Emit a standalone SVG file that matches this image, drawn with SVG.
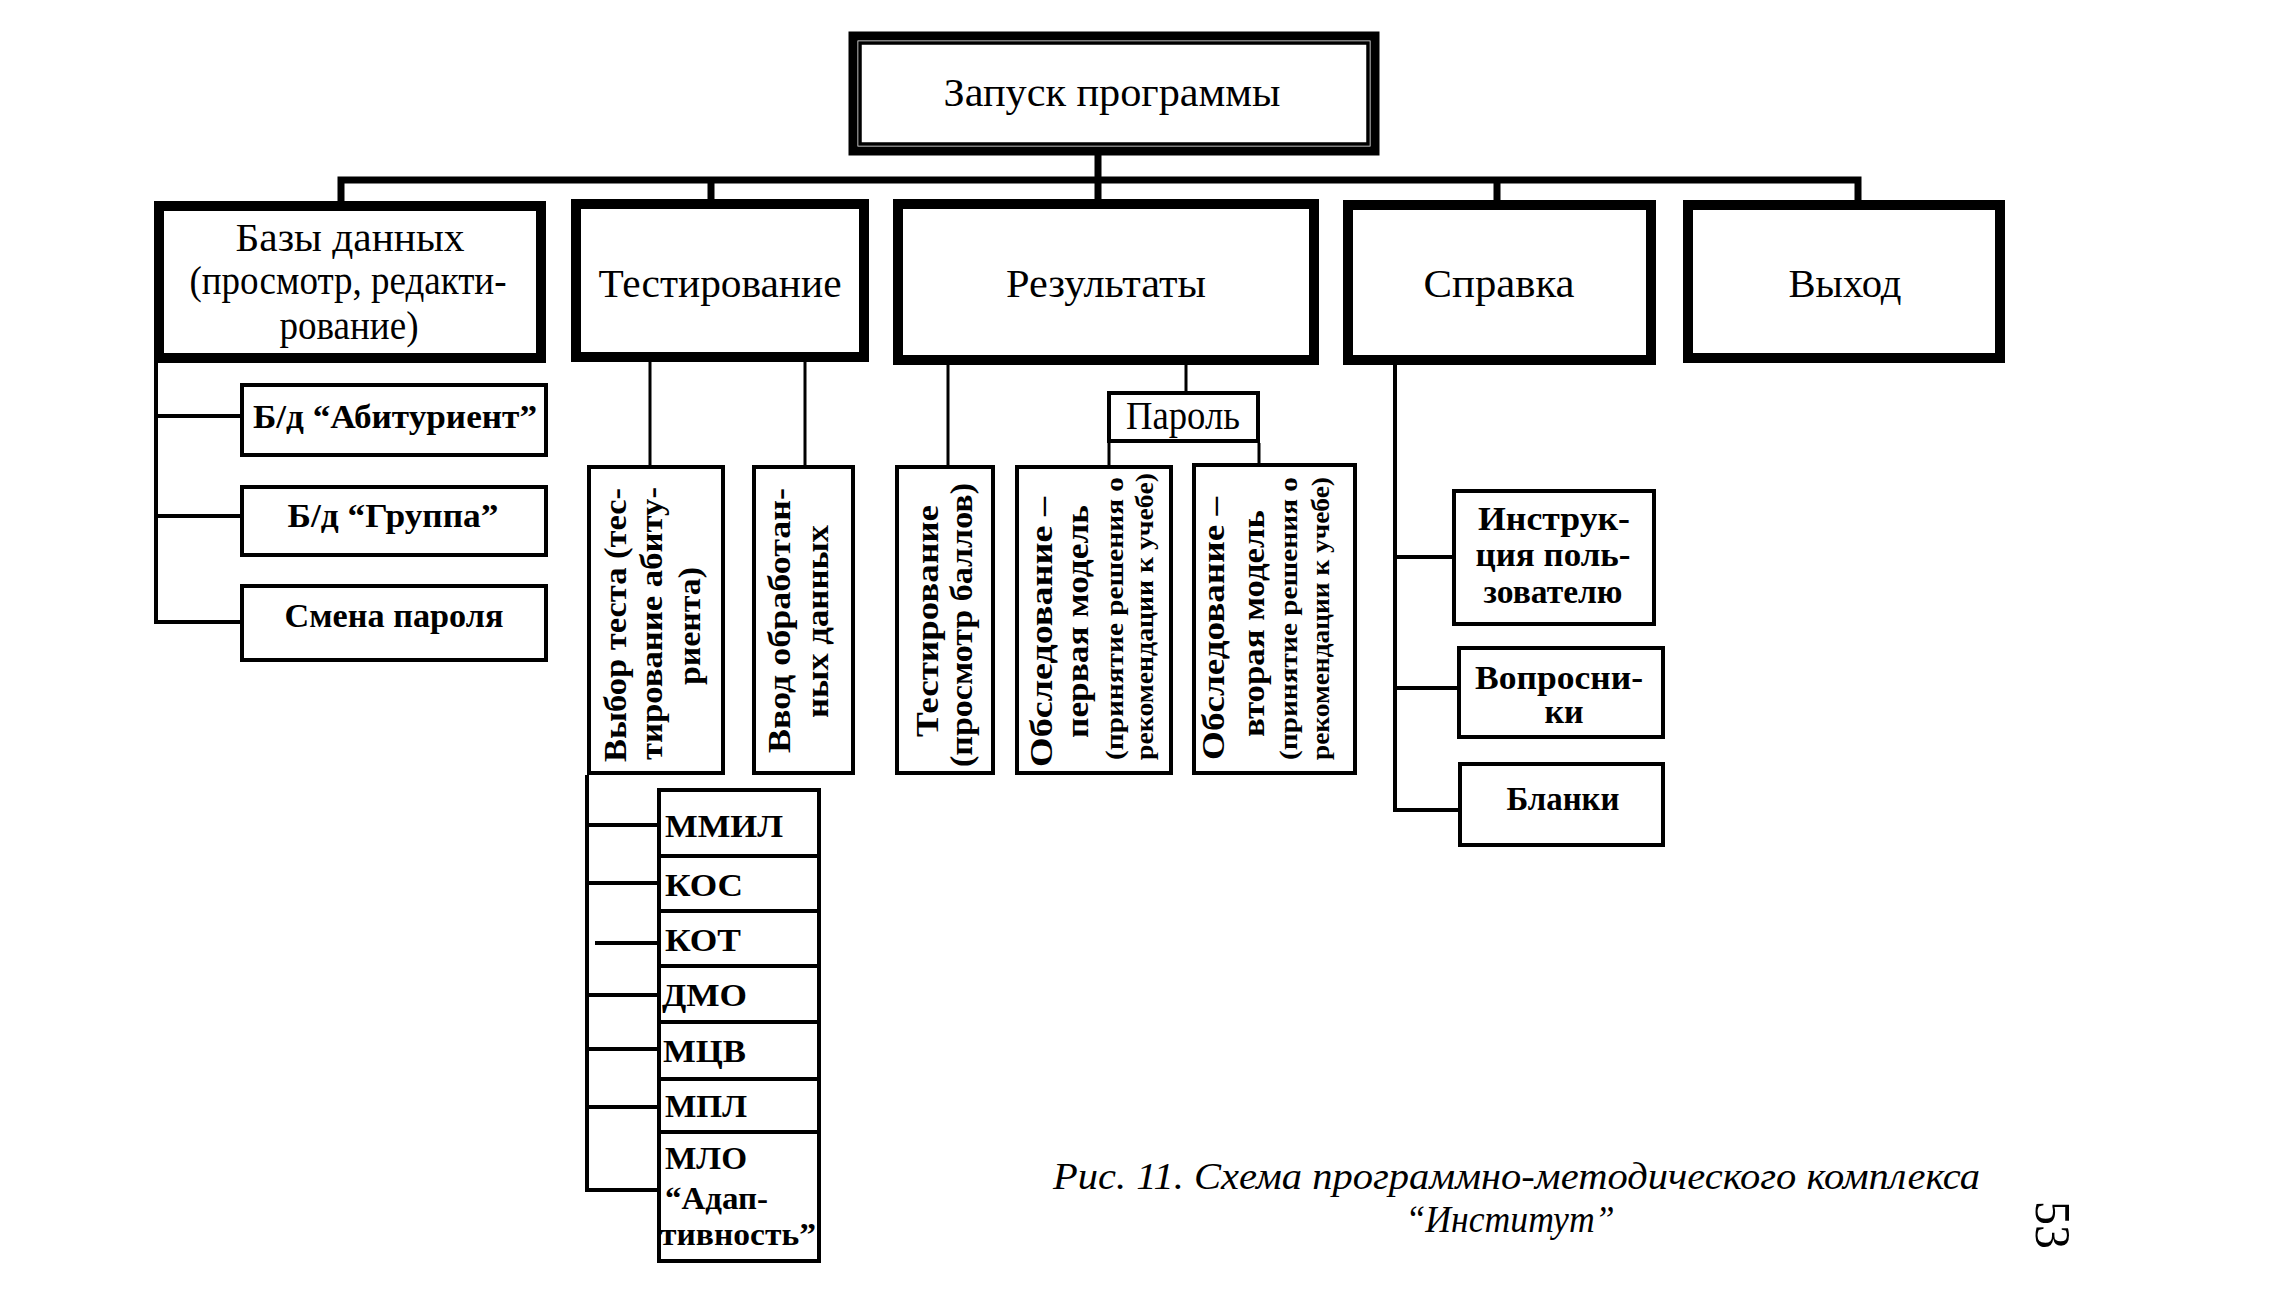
<svg xmlns="http://www.w3.org/2000/svg" width="2285" height="1304" viewBox="0 0 2285 1304">
<style>
.b1{fill:#fff;stroke:#000;stroke-width:10}
.b2{fill:#fff;stroke:#000;stroke-width:4}
.l1{fill:none;stroke:#000;stroke-width:7}
.l2{fill:none;stroke:#000;stroke-width:4}
.l3{fill:none;stroke:#000;stroke-width:3}
text{font-family:"Liberation Serif","Times New Roman",serif;fill:#000}
.r{font-size:40px;text-anchor:middle}
.bd{font-weight:bold;font-size:34px;text-anchor:middle}
.st{font-weight:bold;font-size:32px}
.v{font-weight:bold;font-size:32px}
.vs{font-weight:bold;font-size:25px}
.cap{font-style:italic;font-size:38px}
</style>
<rect x="0" y="0" width="2285" height="1304" fill="#fff"/>
<g id="connectors">
<path class="l1" d="M1098 153 V204 M341 205 V180 H1858 V205 M711 180 V204 M1497 180 V205"/>
<path class="l2" d="M156 363 V622 H240 M156 416 H240 M156 516 H240"/>
<path class="l3" d="M650 362 V465 M805 362 V465"/>
<path class="l2" d="M587 775 V1192 M587 825 H657 M587 883 H657 M595 943 H657 M587 995 H657 M587 1049 H657 M587 1107 H657 M587 1190 H657"/>
<path class="l3" d="M948 365 V465 M1186 365 V393 M1109 443 V465 M1259 443 V465"/>
<path class="l2" d="M1395 365 V810 H1458 M1395 557 H1452 M1395 688 H1457"/>
</g>
<g id="n-start">
<rect x="853" y="36" width="522" height="115" fill="#fff" stroke="#000" stroke-width="9"/>
<rect x="860" y="43" width="508" height="101" fill="none" stroke="#000" stroke-width="3.5"/>
<text class="r" x="1112" y="106" font-size="44" textLength="337" lengthAdjust="spacingAndGlyphs">Запуск программы</text>
</g>
<g id="n-db">
<rect class="b1" x="159" y="206" width="382" height="152"/>
<text class="r" x="350" y="251" font-size="36" textLength="229" lengthAdjust="spacingAndGlyphs">Базы данных</text>
<text class="r" x="348" y="294" font-size="32" textLength="317" lengthAdjust="spacingAndGlyphs">(просмотр, редакти-</text>
<text class="r" x="349" y="339" font-size="32" textLength="139" lengthAdjust="spacingAndGlyphs">рование)</text>
</g>
<g id="n-test">
<rect class="b1" x="576" y="204" width="288" height="153"/>
<text class="r" x="720" y="297" font-size="41" textLength="243" lengthAdjust="spacingAndGlyphs">Тестирование</text>
</g>
<g id="n-results">
<rect class="b1" x="898" y="204" width="416" height="156"/>
<text class="r" x="1106" y="297" font-size="41" textLength="200" lengthAdjust="spacingAndGlyphs">Результаты</text>
</g>
<g id="n-help">
<rect class="b1" x="1348" y="205" width="303" height="155"/>
<text class="r" x="1499" y="297" font-size="41" textLength="151" lengthAdjust="spacingAndGlyphs">Справка</text>
</g>
<g id="n-exit">
<rect class="b1" x="1688" y="205" width="312" height="153"/>
<text class="r" x="1845" y="297" font-size="41" textLength="113" lengthAdjust="spacingAndGlyphs">Выход</text>
</g>
<g id="n-db-abit">
<rect class="b2" x="242" y="385" width="304" height="70"/>
<text class="bd" x="395" y="428" textLength="284" lengthAdjust="spacingAndGlyphs">Б/д “Абитуриент”</text>
</g>
<g id="n-db-group">
<rect class="b2" x="242" y="487" width="304" height="68"/>
<text class="bd" x="393" y="527" textLength="211" lengthAdjust="spacingAndGlyphs">Б/д “Группа”</text>
</g>
<g id="n-db-pass">
<rect class="b2" x="242" y="586" width="304" height="74"/>
<text class="bd" x="394" y="627" textLength="219" lengthAdjust="spacingAndGlyphs">Смена пароля</text>
</g>
<g id="n-choose">
<rect class="b2" x="589" y="467" width="134" height="306"/>
<text class="v" transform="translate(626 762) rotate(-90)" textLength="274" lengthAdjust="spacingAndGlyphs">Выбор теста (тес-</text>
<text class="v" transform="translate(662 760) rotate(-90)" textLength="273" lengthAdjust="spacingAndGlyphs">тирование абиту-</text>
<text class="v" transform="translate(700 685) rotate(-90)" textLength="118" lengthAdjust="spacingAndGlyphs">риента)</text>
</g>
<g id="n-input">
<rect class="b2" x="754" y="467" width="99" height="306"/>
<text class="v" transform="translate(790 753) rotate(-90)" textLength="265" lengthAdjust="spacingAndGlyphs">Ввод обработан-</text>
<text class="v" transform="translate(828 718) rotate(-90)" textLength="193" lengthAdjust="spacingAndGlyphs">ных данных</text>
</g>
<g id="n-res-test">
<rect class="b2" x="897" y="467" width="96" height="306"/>
<text class="v" transform="translate(938 737) rotate(-90)" textLength="232" lengthAdjust="spacingAndGlyphs">Тестирование</text>
<text class="v" transform="translate(972 767) rotate(-90)" textLength="284" lengthAdjust="spacingAndGlyphs">(просмотр баллов)</text>
</g>
<g id="n-password">
<rect class="b2" x="1109" y="393" width="149" height="48"/>
<text class="r" x="1183" y="429" font-size="36" textLength="114" lengthAdjust="spacingAndGlyphs">Пароль</text>
</g>
<g id="n-exam1">
<rect class="b2" x="1017" y="467" width="154" height="306"/>
<text class="v" transform="translate(1052 767) rotate(-90)" textLength="270" lengthAdjust="spacingAndGlyphs">Обследование –</text>
<text class="v" transform="translate(1088 738) rotate(-90)" textLength="233" lengthAdjust="spacingAndGlyphs">первая модель</text>
<text class="vs" transform="translate(1123 760) rotate(-90)" textLength="283" lengthAdjust="spacingAndGlyphs">(принятие решения о</text>
<text class="vs" transform="translate(1153 760) rotate(-90)" textLength="287" lengthAdjust="spacingAndGlyphs">рекомендации к учебе)</text>
</g>
<g id="n-exam2">
<rect class="b2" x="1194" y="465" width="161" height="308"/>
<text class="v" transform="translate(1224 760) rotate(-90)" textLength="263" lengthAdjust="spacingAndGlyphs">Обследование –</text>
<text class="v" transform="translate(1264 737) rotate(-90)" textLength="227" lengthAdjust="spacingAndGlyphs">вторая модель</text>
<text class="vs" transform="translate(1297 760) rotate(-90)" textLength="283" lengthAdjust="spacingAndGlyphs">(принятие решения о</text>
<text class="vs" transform="translate(1329 760) rotate(-90)" textLength="283" lengthAdjust="spacingAndGlyphs">рекомендации к учебе)</text>
</g>
<g id="n-manual">
<rect class="b2" x="1454" y="491" width="200" height="133"/>
<text class="bd" x="1554" y="530" font-size="31" textLength="152" lengthAdjust="spacingAndGlyphs">Инструк-</text>
<text class="bd" x="1553" y="566" font-size="31" textLength="155" lengthAdjust="spacingAndGlyphs">ция поль-</text>
<text class="bd" x="1553" y="603" font-size="31" textLength="139" lengthAdjust="spacingAndGlyphs">зователю</text>
</g>
<g id="n-quest">
<rect class="b2" x="1459" y="648" width="204" height="89"/>
<text class="bd" x="1559" y="689" font-size="31" textLength="168" lengthAdjust="spacingAndGlyphs">Вопросни-</text>
<text class="bd" x="1564" y="723" font-size="31">ки</text>
</g>
<g id="n-forms">
<rect class="b2" x="1460" y="764" width="203" height="81"/>
<text class="bd" x="1563" y="810" font-size="31" textLength="113" lengthAdjust="spacingAndGlyphs">Бланки</text>
</g>
<g id="n-mmil">
<rect class="b2" x="659" y="790" width="160" height="66"/>
<text class="st" x="665" y="837" textLength="118" lengthAdjust="spacingAndGlyphs">ММИЛ</text>
</g>
<g id="n-kos">
<rect class="b2" x="659" y="856" width="160" height="55"/>
<text class="st" x="665" y="896" textLength="78" lengthAdjust="spacingAndGlyphs">КОС</text>
</g>
<g id="n-kot">
<rect class="b2" x="659" y="911" width="160" height="55"/>
<text class="st" x="665" y="951" textLength="76" lengthAdjust="spacingAndGlyphs">КОТ</text>
</g>
<g id="n-dmo">
<rect class="b2" x="659" y="966" width="160" height="56"/>
<text class="st" x="662" y="1006" textLength="85" lengthAdjust="spacingAndGlyphs">ДМО</text>
</g>
<g id="n-mcv">
<rect class="b2" x="659" y="1022" width="160" height="57"/>
<text class="st" x="663" y="1062" textLength="83" lengthAdjust="spacingAndGlyphs">МЦВ</text>
</g>
<g id="n-mpl">
<rect class="b2" x="659" y="1079" width="160" height="53"/>
<text class="st" x="665" y="1117" textLength="82" lengthAdjust="spacingAndGlyphs">МПЛ</text>
</g>
<g id="n-mlo">
<rect class="b2" x="659" y="1132" width="160" height="129"/>
<text class="st" x="665" y="1169" textLength="82" lengthAdjust="spacingAndGlyphs">МЛО</text>
<text class="st" x="665" y="1209" textLength="103" lengthAdjust="spacingAndGlyphs">“Адап-</text>
<text class="st" x="660" y="1245" font-size="30" textLength="156" lengthAdjust="spacingAndGlyphs">тивность”</text>
</g>
<g id="caption">
<text class="cap" x="1053" y="1189" textLength="927" lengthAdjust="spacingAndGlyphs">Рис. 11. Схема программно-методического комплекса</text>
<text class="cap" x="1510" y="1232" text-anchor="middle" textLength="209" lengthAdjust="spacingAndGlyphs">“Институт”</text>
<text transform="translate(2036 1201) rotate(90)" font-size="50" textLength="48" lengthAdjust="spacingAndGlyphs">53</text>
</g>
</svg>
